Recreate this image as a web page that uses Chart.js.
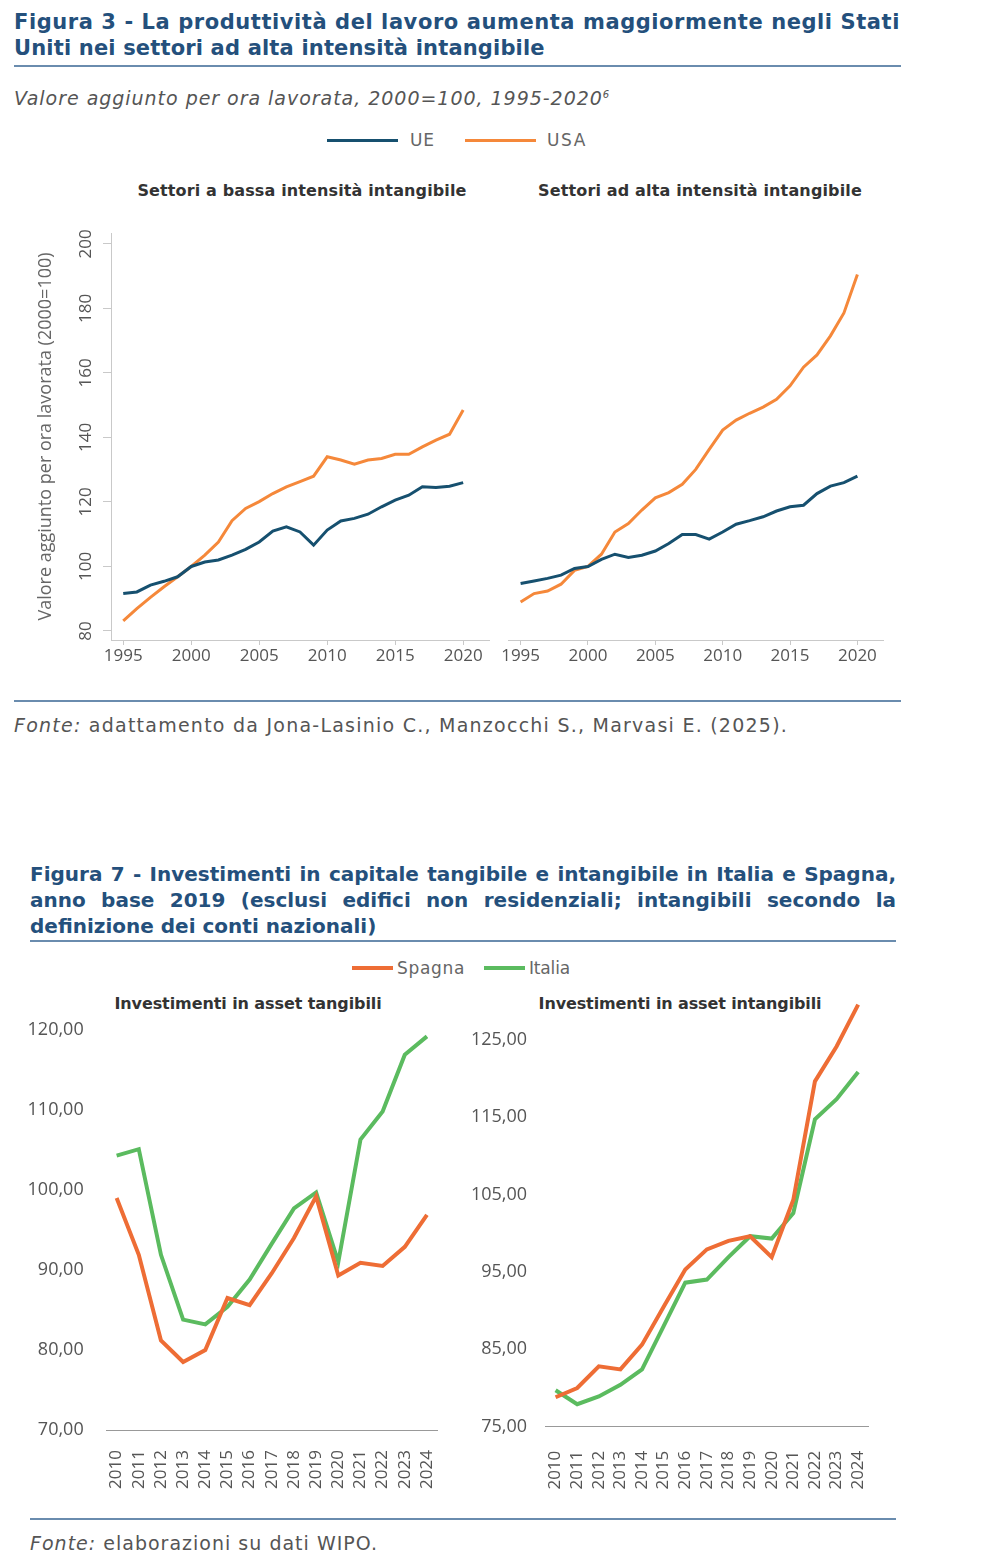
<!DOCTYPE html>
<html lang="it">
<head>
<meta charset="utf-8">
<title>Figura 3 e Figura 7</title>
<script src="https://cdn.jsdelivr.net/npm/chart.js@4.4.0/dist/chart.umd.min.js"></script>
<style>
  body { margin: 0; background: #fff; }
  #pagina { position: relative; width: 990px; height: 1554px; font-family: "DejaVu Sans", "Open Sans", sans-serif; color: #555; }
  .abs { position: absolute; white-space: nowrap; }
  .titolo { color: #24507c; font-weight: 700; font-size: 21px; line-height: 26px; }
  .linea { position: absolute; background: #6a8cae; height: 2px; }
  .pannello { font-weight: 700; font-size: 16px; color: #333; line-height: 20px; transform: translateX(-50%); }
  .leg { font-size: 17px; color: #666; line-height: 20px; }
  .tratto { position: absolute; height: 3px; }
  .fonte { font-size: 19px; line-height: 22px; color: #555; }
  canvas { position: absolute; }
</style>
</head>
<body>
<div id="pagina">
  <div class="abs titolo" style="left:14px; top:9px;" data-larghezza="886">Figura 3 - La produttività del lavoro aumenta maggiormente negli Stati</div>
  <div class="abs titolo" style="left:14px; top:35px;" data-larghezza="531">Uniti nei settori ad alta intensità intangibile</div>
  <div class="linea" style="left:14px; top:65px; width:887px;"></div>
  <div class="abs" style="left:14px; top:83px; font-size:19px; font-style:italic; color:#555; line-height:24px;" data-larghezza="596">Valore aggiunto per ora lavorata, 2000=100, 1995-2020<sup style="font-size:10px;">6</sup></div>

  <div class="tratto" style="left:327px; top:139px; width:71px; background:#16506f;"></div>
  <div class="abs leg" style="left:410px; top:130px;" data-larghezza="25">UE</div>
  <div class="tratto" style="left:465px; top:139px; width:71px; background:#f5883a;"></div>
  <div class="abs leg" style="left:547px; top:130px;" data-larghezza="40">USA</div>

  <div class="abs pannello" style="left:302px; top:181px;" data-larghezza="329">Settori a bassa intensità intangibile</div>
  <div class="abs pannello" style="left:700px; top:181px;" data-larghezza="324">Settori ad alta intensità intangibile</div>

  <canvas id="bassa" width="470" height="445" style="left:30px; top:225px;"></canvas>
  <canvas id="alta" width="400" height="445" style="left:500px; top:225px;"></canvas>

  <div class="linea" style="left:14px; top:700px; width:887px; height:1.5px;"></div>
  <div class="abs fonte" style="left:14px; top:714px;" data-larghezza="774"><em>Fonte:</em> adattamento da Jona-Lasinio C., Manzocchi S., Marvasi E. (2025).</div>

  <div id="titolo7" class="abs titolo" style="left:30px; top:861px; width:866px; white-space:normal; font-size:20px;">
    <div style="text-align:justify; text-align-last:justify; white-space:nowrap;"><span id="riga1">Figura 7 - Investimenti in capitale tangibile e intangibile in Italia e Spagna,</span></div>
    <div style="text-align:justify; text-align-last:justify; white-space:nowrap;">anno base 2019 (esclusi edifici non residenziali; intangibili secondo la</div>
    <div style="white-space:nowrap;">definizione dei conti nazionali)</div>
  </div>
  <div class="linea" style="left:30px; top:940px; width:866px;"></div>

  <div class="tratto" style="left:352px; top:966px; width:41px; height:4px; background:#ee6d35;"></div>
  <div class="abs leg" style="left:397px; top:958px;" data-larghezza="68">Spagna</div>
  <div class="tratto" style="left:484px; top:966px; width:41px; height:4px; background:#5bbb5f;"></div>
  <div class="abs leg" style="left:529px; top:958px;" data-larghezza="41">Italia</div>

  <div class="abs pannello" style="left:248px; top:994px;" data-larghezza="267">Investimenti in asset tangibili</div>
  <div class="abs pannello" style="left:680px; top:994px;" data-larghezza="283">Investimenti in asset intangibili</div>

  <canvas id="tangibili" width="440" height="520" style="left:20px; top:980px;"></canvas>
  <canvas id="intangibili" width="430" height="520" style="left:465px; top:980px;"></canvas>

  <div class="linea" style="left:30px; top:1518px; width:866px; height:1.5px;"></div>
  <div class="abs fonte" style="left:30px; top:1532px;" data-larghezza="348"><em>Fonte:</em> elaborazioni su dati WIPO.</div>
</div>

<script>
// Figura 3 - valore aggiunto per ora lavorata (2000=100)
const anni = [1995, 1996, 1997, 1998, 1999, 2000, 2001, 2002, 2003, 2004, 2005, 2006, 2007,
  2008, 2009, 2010, 2011, 2012, 2013, 2014, 2015, 2016, 2017, 2018, 2019, 2020];
const ueBassa = [91.6, 92.1, 94.2, 95.4, 96.8, 100, 101.4, 102, 103.5, 105.3, 107.6, 111, 112.3,
  110.7, 106.6, 111.3, 114.1, 114.9, 116.2, 118.5, 120.6, 122.1, 124.7, 124.5, 124.9, 126];
const usaBassa = [83.1, 86.9, 90.4, 93.7, 96.8, 100, 103.5, 107.6, 114.2, 118, 120.1, 122.6, 124.7,
  126.3, 128, 134, 133, 131.7, 133, 133.5, 134.8, 134.8, 137.1, 139.2, 141, 148.5];
const ueAlta = [94.7, 95.5, 96.3, 97.3, 99.4, 100, 102.2, 103.8, 102.8, 103.5, 104.8, 107.1, 109.9,
  109.9, 108.5, 110.7, 113.1, 114.2, 115.4, 117.2, 118.5, 119, 122.6, 124.9, 126, 128];
const usaAlta = [89, 91.6, 92.4, 94.5, 98.8, 100, 103.8, 110.7, 113.3, 117.5, 121.3, 122.9, 125.5,
  130.1, 136.3, 142.3, 145.4, 147.5, 149.4, 151.8, 156, 161.8, 165.6, 171.5, 178.6, 190.5];
const tickAnniFig3 = [1995, 2000, 2005, 2010, 2015, 2020];
const tickValoriFig3 = [80, 100, 120, 140, 160, 180, 200];

// Figura 7 - investimenti, anno base 2019
const anniInv = [2010, 2011, 2012, 2013, 2014, 2015, 2016, 2017, 2018, 2019, 2020, 2021, 2022, 2023, 2024];
const spagnaTang = [99, 91.9, 81.2, 78.5, 80, 86.5, 85.6, 89.6, 94, 99.2, 89.3, 90.9, 90.5, 92.9, 96.9];
const italiaTang = [104.3, 105.1, 91.9, 83.8, 83.2, 85.4, 88.8, 93.3, 97.7, 99.7, 91, 106.3, 109.8, 116.9, 119.2];
const spagnaIntang = [78.8, 80, 82.8, 82.4, 85.6, 90.5, 95.3, 97.9, 99, 99.6, 96.9, 104.3, 119.6, 124.1, 129.5];
const italiaIntang = [79.7, 77.9, 78.9, 80.4, 82.4, 88, 93.6, 94, 96.9, 99.6, 99.3, 102.6, 114.7, 117.3, 120.8];
const tickTang = [70, 80, 90, 100, 110, 120];
const tickIntang = [75, 85, 95, 105, 115, 125];

const blu = "#16506f";
const arancio = "#f5883a";
const rossoSpagna = "#ee6d35";
const verdeItalia = "#5bbb5f";
const grigio = "#c9c9c9";
const font = "'Open Sans', Lato, sans-serif";

// porta le scritte html alla larghezza dell'originale
document.querySelectorAll("[data-larghezza]").forEach((el) => {
  const obiettivo = +el.dataset.larghezza;
  const w = el.getBoundingClientRect().width;
  const n = el.textContent.length;
  el.style.letterSpacing = ((obiettivo - w) / n).toFixed(2) + "px";
});
(() => {
  const riga1 = document.getElementById("riga1");
  const w = riga1.getBoundingClientRect().width;
  const ls = ((866 - w) / riga1.textContent.length).toFixed(2) + "px";
  document.getElementById("titolo7").style.letterSpacing = ls;
})();

const punti = (xs, ys) => xs.map((x, i) => ({ x: x, y: ys[i] }));

const serie = (label, xs, ys, colore, spessore) => ({
  label: label,
  data: punti(xs, ys),
  borderColor: colore,
  backgroundColor: colore,
  borderWidth: spessore,
  pointRadius: 0,
  tension: 0,
  fill: false,
});

const fissaTick = (valori) => (s) => {
  s.ticks = valori.map((v) => ({ value: v }));
};

// etichette dell'asse y ruotate (come nell'originale)
const etichetteRuotate = {
  id: "etichetteRuotate",
  afterDraw(chart) {
    const s = chart.scales.y;
    const ctx = chart.ctx;
    ctx.save();
    ctx.font = "17px " + font;
    ctx.fillStyle = "#555";
    ctx.textAlign = "center";
    ctx.textBaseline = "middle";
    s.ticks.forEach((t) => {
      ctx.save();
      ctx.translate(s.right - 25, s.getPixelForValue(t.value));
      ctx.rotate(-Math.PI / 2);
      ctx.fillText(String(t.value), 0, 0);
      ctx.restore();
    });
    ctx.restore();
  },
};

const basePlugins = { legend: { display: false }, tooltip: { enabled: false } };

const creaFig3 = (id, ue, usa, conAsseY) => {
  new Chart(document.getElementById(id), {
    type: "line",
    data: { datasets: [serie("UE", anni, ue, blu, 3), serie("USA", anni, usa, arancio, 3)] },
    options: {
      responsive: false,
      animation: false,
      layout: { padding: conAsseY ? { top: 8, right: 11, left: 0, bottom: 0 } : { top: 8, right: 17, left: 5, bottom: 0 } },
      plugins: basePlugins,
      scales: {
        x: {
          type: "linear",
          min: 1994.1,
          max: 2021.9,
          afterBuildTicks: fissaTick(tickAnniFig3),
          afterFit: (s) => { s.height = 30; },
          grid: { drawOnChartArea: false, drawTicks: true, tickLength: 5, color: grigio },
          border: { color: grigio, width: 1 },
          ticks: { color: "#555", font: { family: font, size: 17 }, padding: 1, maxRotation: 0, callback: (v) => String(v) },
        },
        y: {
          display: conAsseY,
          min: 77.2,
          max: 203.4,
          afterBuildTicks: fissaTick(tickValoriFig3),
          afterFit: (s) => { s.width = conAsseY ? 81 : 0; },
          grid: { drawOnChartArea: false, drawTicks: true, tickLength: 8, color: grigio },
          border: { color: grigio, width: 1 },
          ticks: { display: false },
          title: {
            display: true,
            text: "Valore aggiunto per ora lavorata (2000=100)",
            color: "#666",
            font: { family: font, size: 18 },
            padding: { top: 5, bottom: 0 },
          },
        },
      },
    },
    plugins: conAsseY ? [etichetteRuotate] : [],
  });
};

creaFig3("bassa", ueBassa, usaBassa, true);
creaFig3("alta", ueAlta, usaAlta, false);

const creaFig7 = (id, spagna, italia, cfg) => {
  new Chart(document.getElementById(id), {
    type: "line",
    data: { datasets: [serie("Spagna", anniInv, spagna, rossoSpagna, 4), serie("Italia", anniInv, italia, verdeItalia, 4)] },
    options: {
      responsive: false,
      animation: false,
      layout: { padding: { top: cfg.top, right: cfg.right, left: 0, bottom: 0 } },
      plugins: basePlugins,
      scales: {
        x: {
          type: "linear",
          min: cfg.xMin,
          max: cfg.xMax,
          afterBuildTicks: fissaTick(anniInv),
          afterFit: (s) => { s.height = cfg.altezzaX; },
          grid: { display: false },
          border: { color: "#999", width: 1 },
          ticks: {
            color: "#555",
            font: { family: font, size: 17 },
            padding: cfg.padX,
            minRotation: 90,
            maxRotation: 90,
            autoSkip: false,
            callback: (v) => String(v),
          },
        },
        y: {
          min: cfg.yMin,
          max: cfg.yMax,
          afterBuildTicks: fissaTick(cfg.tick),
          afterFit: (s) => { s.width = cfg.larghezzaY; },
          grid: { display: false },
          border: { display: false },
          ticks: {
            color: "#555",
            font: { family: font, size: 18 },
            padding: cfg.padY,
            callback: (v) => v.toFixed(2).replace(".", ","),
          },
        },
      },
    },
  });
};

creaFig7("tangibili", spagnaTang, italiaTang, {
  top: 50, right: 20, altezzaX: 70, larghezzaY: 86.7, padY: 15, padX: 12,
  xMin: 2009.552, xMax: 2024.478, yMin: 70, yMax: 120, tick: tickTang,
});
creaFig7("intangibili", spagnaIntang, italiaIntang, {
  top: 15, right: 13.3, altezzaX: 73.3, larghezzaY: 80, padY: 10, padX: 16,
  xMin: 2009.51, xMax: 2024.49, yMin: 75, yMax: 130, tick: tickIntang,
});
</script>
</body>
</html>
